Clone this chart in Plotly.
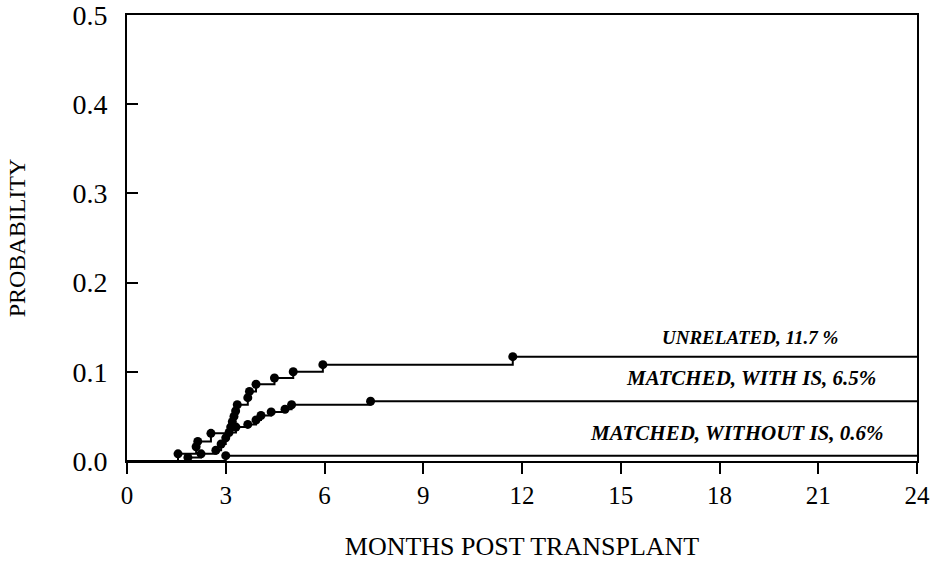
import plotly.graph_objects as go

# Event times (months) and cumulative probabilities
unrelated_t = [0, 1.55, 2.10, 2.15, 2.55, 3.15, 3.20, 3.25, 3.30, 3.35, 3.67, 3.72, 3.92, 4.48, 5.05, 5.95, 11.72, 24]
unrelated_p = [0, 0.008, 0.016, 0.022, 0.031, 0.038, 0.044, 0.050, 0.056, 0.063, 0.071, 0.078, 0.086, 0.093, 0.100, 0.108, 0.117, 0.117]
unrelated_dot = [False] + [True] * 16 + [False]

with_is_t = [0, 1.85, 2.25, 2.70, 2.86, 3.00, 3.10, 3.31, 3.67, 3.92, 4.07, 4.38, 4.80, 5.00, 7.40, 24]
with_is_p = [0, 0.004, 0.008, 0.012, 0.019, 0.026, 0.032, 0.038, 0.041, 0.046, 0.051, 0.055, 0.058, 0.063, 0.067, 0.067]
with_is_dot = [False] + [True] * 14 + [False]

without_is_t = [0, 3.00, 24]
without_is_p = [0, 0.006, 0.006]
without_is_dot = [False, True, False]

labels = ["UNRELATED, 11.7 %", "MATCHED, WITH IS, 6.5%", "MATCHED, WITHOUT IS, 0.6%"]
label_x = [21.67, 22.8, 23.07]
label_y = [0.139, 0.093, 0.031]
label_size = [19, 21, 21]

x_ticks = [0, 3, 6, 9, 12, 15, 18, 21, 24]
y_ticks = [0.0, 0.1, 0.2, 0.3, 0.4, 0.5]

FONT = "Liberation Serif, Times New Roman, serif"

fig = go.Figure()
for t, p, d in [(unrelated_t, unrelated_p, unrelated_dot),
                (with_is_t, with_is_p, with_is_dot),
                (without_is_t, without_is_p, without_is_dot)]:
    fig.add_trace(go.Scatter(x=t, y=p, mode="lines", line=dict(color="black", width=2, shape="hv"),
                             showlegend=False, hoverinfo="skip"))
    fig.add_trace(go.Scatter(x=[a for a, k in zip(t, d) if k], y=[b for b, k in zip(p, d) if k],
                             mode="markers", marker=dict(color="black", size=9),
                             showlegend=False, hoverinfo="skip"))

for txt, x, y, s in zip(labels, label_x, label_y, label_size):
    fig.add_annotation(x=x, y=y, text="<b><i>" + txt + "</i></b>", showarrow=False,
                       xanchor="right", yanchor="middle",
                       font=dict(family=FONT, size=s, color="black"))

fig.update_layout(
    width=935, height=561,
    margin=dict(l=127, r=18, t=15, b=100),
    paper_bgcolor="white", plot_bgcolor="white",
    font=dict(family=FONT, color="black"),
)
fig.update_xaxes(range=[0, 24], tickvals=x_ticks, ticktext=[str(v) for v in x_ticks],
                 ticks="outside", ticklen=11, tickwidth=2, tickcolor="black",
                 showline=True, linecolor="black", linewidth=2, mirror=True,
                 showgrid=False, zeroline=False, automargin=False,
                 tickfont=dict(family=FONT, size=25),
                 title=dict(text="MONTHS POST TRANSPLANT", font=dict(family=FONT, size=26), standoff=30))
fig.update_yaxes(range=[0, 0.5], tickvals=y_ticks, ticktext=["%.1f" % v for v in y_ticks],
                 ticks="inside", ticklen=11, tickwidth=2, tickcolor="black",
                 showline=True, linecolor="black", linewidth=2, mirror=True,
                 showgrid=False, zeroline=False, ticklabelstandoff=12, automargin=False,
                 ticklabeloverflow="allow",
                 tickfont=dict(family=FONT, size=28),
                 title=dict(text="PROBABILITY", font=dict(family=FONT, size=24), standoff=40))

# remove the default page margin so the 935x561 figure fills the window exactly
fig.write_html("out.html", config={"displayModeBar": False},
               post_script="document.body.style.margin='0px';document.body.style.overflow='hidden';")
